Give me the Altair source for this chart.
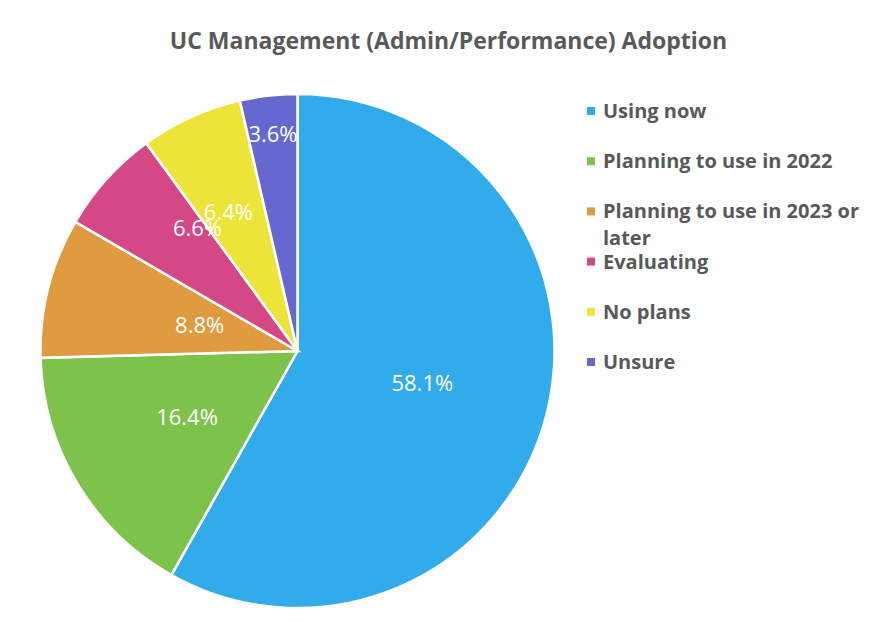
import altair as alt
import pandas as pd

categories = ["Using now", "Planning to use in 2022", "Planning to use in 2023 or later",
              "Evaluating", "No plans", "Unsure"]
values = [58.1, 16.4, 8.8, 6.6, 6.4, 3.6]
colors = ["#31ABEA", "#7DC24B", "#E09A3F", "#D54886", "#ECE438", "#6667CF"]
# label placement (layout only): distance from centre in px, angular nudge in value units
label_radius = [129, 129, 101, 158, 154, 217]
label_shift = [0, 0, 0, 2.4, -0.6, 0]

df = pd.DataFrame({
    "category": categories,
    "value": values,
    "order": list(range(len(categories))),
    "label": [f"{v:.1f}%" for v in values],
    "lr": label_radius,
    "shift": label_shift,
})

FONT = "Open Sans"
GRAY = "#595959"
color_scale = alt.Scale(domain=categories, range=colors)
CX, CY = 289.5, 283

pie = alt.Chart(df).mark_arc(outerRadius=257, stroke="white", strokeWidth=2.5).encode(
    theta=alt.Theta("value:Q", stack=True),
    order=alt.Order("order:Q"),
    color=alt.Color("category:N", scale=color_scale, sort=categories, legend=None),
    x=alt.value(CX),
    y=alt.value(CY),
)

text = alt.Chart(df).transform_window(
    cum="sum(value)", sort=[alt.SortField("order", order="ascending")], frame=[None, 0]
).transform_calculate(
    mid="datum.cum - datum.value / 2 + datum.shift"
).mark_text(font=FONT, fontSize=22, color="white").encode(
    theta=alt.Theta("mid:Q", stack=False),
    radius=alt.Radius("lr:Q", scale=None),
    text="label:N",
    x=alt.value(CX),
    y=alt.value(CY),
)

leg_y = alt.Y("category:N", sort=categories, axis=None,
              scale=alt.Scale(type="point", domain=categories, range=[43, 294], padding=0))

legend_sym = alt.Chart(df).mark_square(size=64, opacity=1).encode(
    x=alt.value(583),
    y=leg_y,
    color=alt.Color("category:N", scale=color_scale, sort=categories, legend=None),
)

legend_txt = alt.Chart(df).transform_calculate(
    lbl="replace(datum.category, ' or later', ' or\\nlater')"
).mark_text(
    font=FONT, fontSize=20, fontWeight="bold", color=GRAY, align="left",
    baseline="alphabetic", dy=7, lineBreak="\n", lineHeight=27,
).encode(
    x=alt.value(595),
    y=leg_y,
    text="lbl:N",
)

chart = (pie + text + legend_sym + legend_txt).properties(
    width=861,
    height=546,
    title=alt.Title(
        "UC Management (Admin/Performance) Adoption",
        font=FONT,
        fontSize=23,
        fontWeight="bold",
        color=GRAY,
        anchor="middle",
        dx=10,
        offset=14,
    ),
    padding={"left": 0, "top": 60, "right": 0, "bottom": 0},
    autosize=alt.AutoSizeParams(type="none"),
).configure_view(stroke=None)

chart.save("out.html", embed_options={"renderer": "svg", "actions": False})
